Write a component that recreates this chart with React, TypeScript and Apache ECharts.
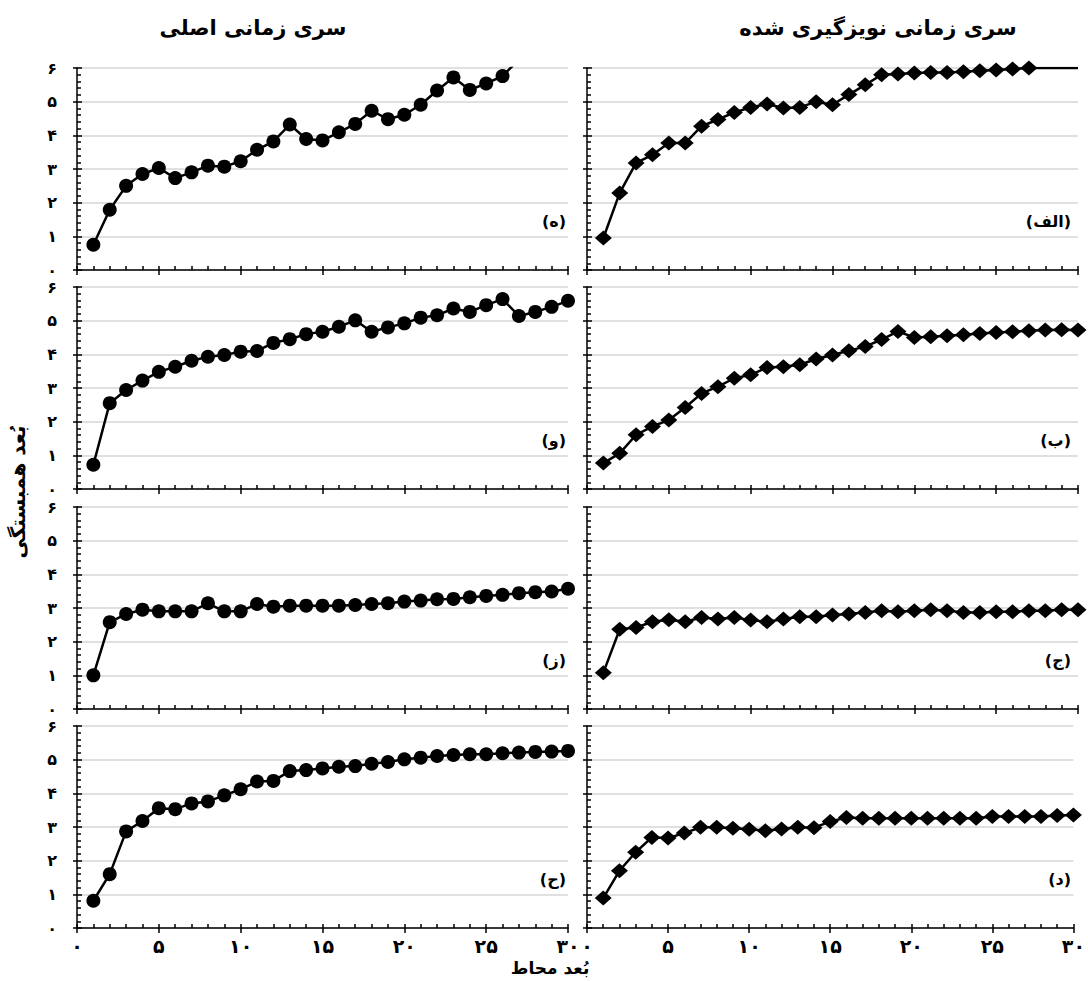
import React, { useEffect, useRef } from "react";
import * as echarts from "echarts";

// Embedding dimension (x) 1..30
const dims = Array.from({ length: 30 }, (_, i) => i + 1);

// Tick labels (Persian digits)
const xTickLabels = ["۰", "۵", "۱۰", "۱۵", "۲۰", "۲۵", "۳۰"];
const yTickLabels = ["۰", "۱", "۲", "۳", "۴", "۵", "۶"];

// Left column: original time series (circles)
const origH = [0.75, 1.79, 2.5, 2.85, 3.03, 2.73, 2.9, 3.1, 3.07, 3.23, 3.57, 3.82, 4.32, 3.89, 3.85, 4.09, 4.34, 4.73, 4.48, 4.61, 4.91, 5.33, 5.72, 5.35, 5.54, 5.76, 6.25];
const origV = [0.72, 2.55, 2.94, 3.22, 3.48, 3.63, 3.81, 3.93, 3.98, 4.08, 4.1, 4.34, 4.45, 4.6, 4.67, 4.82, 5.01, 4.67, 4.8, 4.92, 5.09, 5.16, 5.36, 5.26, 5.46, 5.64, 5.14, 5.26, 5.41, 5.59];
const origZ = [1.0, 2.58, 2.82, 2.95, 2.9, 2.9, 2.9, 3.14, 2.9, 2.9, 3.12, 3.04, 3.07, 3.07, 3.07, 3.07, 3.09, 3.12, 3.14, 3.19, 3.22, 3.26, 3.27, 3.32, 3.36, 3.39, 3.44, 3.47, 3.49, 3.57];
const origHe = [0.81, 1.6, 2.87, 3.18, 3.56, 3.53, 3.7, 3.76, 3.94, 4.12, 4.35, 4.37, 4.66, 4.69, 4.74, 4.79, 4.81, 4.88, 4.93, 5.01, 5.06, 5.11, 5.14, 5.16, 5.16, 5.19, 5.21, 5.23, 5.24, 5.26];

// Right column: denoised time series (diamonds)
const denoAlef = [0.95, 2.29, 3.18, 3.42, 3.77, 3.77, 4.27, 4.47, 4.68, 4.83, 4.93, 4.81, 4.83, 5.0, 4.91, 5.21, 5.5, 5.8, 5.82, 5.85, 5.87, 5.87, 5.89, 5.92, 5.94, 5.97, 6.0];
const denoAlefTail = [6.0, 6.0, 6.0]; // x = 28..30, line only
const denoBe = [0.77, 1.06, 1.61, 1.86, 2.05, 2.42, 2.84, 3.04, 3.29, 3.39, 3.61, 3.63, 3.69, 3.86, 3.98, 4.11, 4.23, 4.44, 4.68, 4.5, 4.52, 4.55, 4.58, 4.62, 4.65, 4.67, 4.7, 4.72, 4.73, 4.72];
const denoJim = [1.08, 2.37, 2.42, 2.59, 2.65, 2.59, 2.72, 2.67, 2.72, 2.64, 2.59, 2.67, 2.74, 2.74, 2.79, 2.82, 2.87, 2.92, 2.89, 2.92, 2.95, 2.92, 2.87, 2.87, 2.89, 2.89, 2.92, 2.92, 2.95, 2.95];
const denoDal = [0.89, 1.7, 2.25, 2.69, 2.67, 2.82, 2.99, 2.99, 2.96, 2.93, 2.89, 2.94, 2.99, 2.98, 3.16, 3.28, 3.26, 3.26, 3.26, 3.26, 3.26, 3.26, 3.26, 3.26, 3.31, 3.31, 3.31, 3.31, 3.34, 3.36];

const colTitles = ["سری زمانی اصلی", "سری زمانی نویزگیری شده"];
const panelLabels = ["(ه)", "(الف)", "(و)", "(ب)", "(ز)", "(ج)", "(ح)", "(د)"];
const xTitle = "بُعد محاط";
const yTitle = "بُعد همبستگی";

const FONT = "DejaVu Sans";

export default function App() {
  const ref = useRef<HTMLDivElement>(null);
  useEffect(() => {
    document.body.style.margin = "0";
    const chart = echarts.init(ref.current!, null, { renderer: "svg" });

    const panels = [
      { values: origH, tail: [] as number[], symbol: "circle" },
      { values: denoAlef, tail: denoAlefTail, symbol: "diamond" },
      { values: origV, tail: [], symbol: "circle" },
      { values: denoBe, tail: [], symbol: "diamond" },
      { values: origZ, tail: [], symbol: "circle" },
      { values: denoJim, tail: [], symbol: "diamond" },
      { values: origHe, tail: [], symbol: "circle" },
      { values: denoDal, tail: [], symbol: "diamond" },
    ];

    const tops = [68, 287, 507, 726];
    const lefts = [77, 587];
    const W = 491;
    const H = 202;

    const grids: any[] = [];
    const xAxes: any[] = [];
    const yAxes: any[] = [];
    const series: any[] = [];
    const graphics: any[] = [];

    const black = { color: "#000", width: 1.5 };
    const xLabelFont = { fontFamily: FONT, fontWeight: "bold", fontSize: 19, color: "#000" };
    const yLabelFont = { fontFamily: FONT, fontWeight: "bold", fontSize: 16, color: "#000" };

    panels.forEach((p, k) => {
      const r = Math.floor(k / 2);
      const c = k % 2;
      grids.push({ left: lefts[c], top: tops[r], width: W, height: H, containLabel: false });
      xAxes.push({
        gridIndex: k, type: "value", min: 0, max: 30, interval: 5, position: "bottom",
        axisLine: { show: true, onZero: false, lineStyle: black },
        axisTick: { show: true, inside: true, length: 4, lineStyle: black },
        minorTick: { show: true, splitNumber: 5, length: 4, lineStyle: black },
        splitLine: { show: false },
        axisLabel: {
          show: r === 3, margin: 8, ...xLabelFont,
          formatter: (v: number) => xTickLabels[Math.round(v / 5)] ?? "",
        },
      });
      xAxes.push({
        gridIndex: k, type: "value", min: 0, max: 30, interval: 5, position: "bottom",
        axisLine: { show: false, onZero: false },
        axisTick: { show: true, inside: false, length: 5, lineStyle: black },
        splitLine: { show: false }, axisLabel: { show: false },
      });
      yAxes.push({
        gridIndex: k, type: "value", min: 0, max: 6, interval: 1, position: "left",
        axisLine: { show: true, onZero: false, lineStyle: black },
        axisTick: { show: true, inside: true, length: 5, lineStyle: black },
        minorTick: { show: true, splitNumber: 5, length: 4, lineStyle: black },
        splitLine: { show: true, lineStyle: { color: "#d6d6d6", width: 1.5 } },
        axisLabel: {
          show: c === 0, margin: 20, ...yLabelFont,
          formatter: (v: number) => yTickLabels[Math.round(v)] ?? "",
        },
      });
      yAxes.push({
        gridIndex: k, type: "value", min: 0, max: 6, interval: 1, position: "left",
        axisLine: { show: false, onZero: false },
        axisTick: { show: true, inside: false, length: 4, lineStyle: black },
        splitLine: { show: false }, axisLabel: { show: false },
      });

      const data: any[] = p.values.map((v, i) => [dims[i], v]);
      p.tail.forEach((v, j) => {
        data.push({ value: [dims[p.values.length + j], v], symbol: "none" });
      });
      series.push({
        type: "line",
        xAxisIndex: 2 * k,
        yAxisIndex: 2 * k,
        data,
        symbol: p.symbol,
        symbolSize: p.symbol === "circle" ? 14 : [17, 15],
        showAllSymbol: true,
        clip: true,
        lineStyle: { color: "#000", width: 2.5 },
        itemStyle: { color: "#000" },
        emphasis: { disabled: true },
      });

      graphics.push({
        type: "text",
        right: c === 0 ? 1088 - 566 : 1088 - 1071,
        top: tops[r] + H - 57,
        style: { text: panelLabels[k], fontFamily: FONT, fontWeight: "bold", fontSize: 16, fill: "#000" },
      });
    });

    graphics.push({
      type: "text", x: 253, y: 28,
      style: { text: colTitles[0], fontFamily: FONT, fontWeight: "bold", fontSize: 21, fill: "#000", textAlign: "center", textVerticalAlign: "middle" },
    });
    graphics.push({
      type: "text", x: 878, y: 28,
      style: { text: colTitles[1], fontFamily: FONT, fontWeight: "bold", fontSize: 21, fill: "#000", textAlign: "center", textVerticalAlign: "middle" },
    });
    graphics.push({
      type: "text", x: 550, y: 968,
      style: { text: xTitle, fontFamily: FONT, fontWeight: "bold", fontSize: 17, fill: "#000", textAlign: "center", textVerticalAlign: "middle" },
    });
    graphics.push({
      type: "text", x: 18, y: 492, rotation: Math.PI / 2,
      style: { text: yTitle, fontFamily: FONT, fontWeight: "bold", fontSize: 20, fill: "#000", textAlign: "center", textVerticalAlign: "middle" },
    });

    chart.setOption({
      animation: false,
      backgroundColor: "#fff",
      grid: grids,
      xAxis: xAxes,
      yAxis: yAxes,
      series,
      graphic: graphics,
    });
    return () => chart.dispose();
  }, []);
  return <div ref={ref} style={{ width: 1088, height: 981 }} />;
}
